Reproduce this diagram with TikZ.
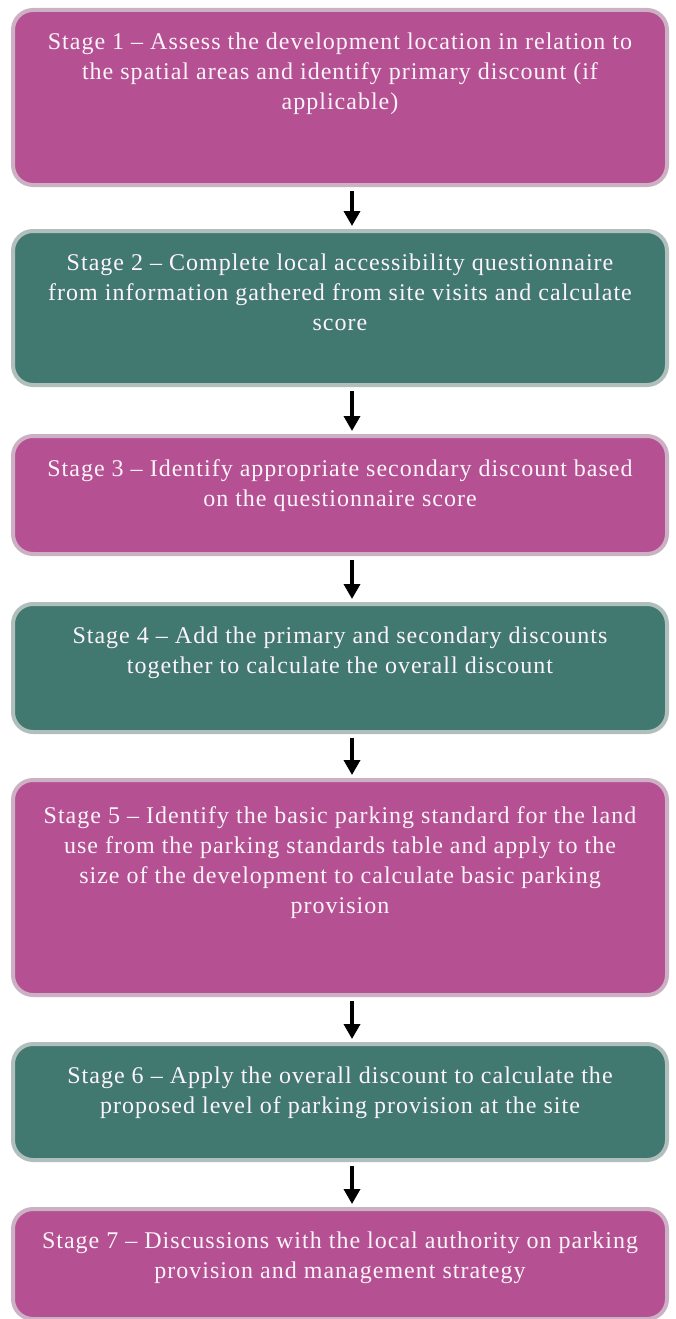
\documentclass[tikz,border=0pt]{standalone}
\usepackage{fontspec}
\setmainfont{Liberation Serif}[LetterSpace=4.2]
\usetikzlibrary{arrows.meta}
\definecolor{magfill}{RGB}{181,81,146}
\definecolor{magedge}{RGB}{204,176,196}
\definecolor{tealfill}{RGB}{65,121,113}
\definecolor{tealedge}{RGB}{176,190,188}
\definecolor{txtcol}{RGB}{252,244,250}
\tikzset{
  stagebox/.style={rounded corners=20pt, line width=4pt, minimum width=654pt, anchor=north, inner sep=0pt},
  magbox/.style={stagebox, fill=magfill, draw=magedge},
  tealbox/.style={stagebox, fill=tealfill, draw=tealedge},
  stagetext/.style={anchor=north, align=center, inner sep=0pt, text=txtcol, font=\fontsize{24}{30}\selectfont},
  flowarrow/.style={line width=3.5pt, -{Triangle[width=16pt,length=15pt]}, shorten <=4pt, shorten >=3pt}
}
\begin{document}
\begin{tikzpicture}[x=1pt,y=-1pt]
\useasboundingbox (0,0) rectangle (675,1319);
\fill[white] (0,0) rectangle (675,1319);
\node[magbox, minimum height=175pt] (b1) at (340,8) {};
\node[tealbox, minimum height=154pt] (b2) at (340,229) {};
\node[magbox, minimum height=118pt] (b3) at (340,434) {};
\node[tealbox, minimum height=128pt] (b4) at (340,602) {};
\node[magbox, minimum height=215pt] (b5) at (340,778) {};
\node[tealbox, minimum height=116pt] (b6) at (340,1042) {};
\node[magbox, minimum height=110pt] (b7) at (340,1207) {};

\node[stagetext] (t1) at ([yshift=-25pt]b1.north) {Stage 1 -- Assess the development location in relation to\\the spatial areas and identify primary discount (if\\applicable)};
\node[stagetext] (t2) at ([yshift=-25pt]b2.north) {Stage 2 -- Complete local accessibility questionnaire\\from information gathered from site visits and calculate\\score};
\node[stagetext] (t3) at ([yshift=-25pt]b3.north) {Stage 3 -- Identify appropriate secondary discount based\\on the questionnaire score};
\node[stagetext] (t4) at ([yshift=-25pt]b4.north) {Stage 4 -- Add the primary and secondary discounts\\together to calculate the overall discount};
\node[stagetext] (t5) at ([yshift=-28pt]b5.north) {Stage 5 -- Identify the basic parking standard for the land\\use from the parking standards table and apply to the\\size of the development to calculate basic parking\\provision};
\node[stagetext] (t6) at ([yshift=-25pt]b6.north) {Stage 6 -- Apply the overall discount to calculate the\\proposed level of parking provision at the site};
\node[stagetext] (t7) at ([yshift=-25pt]b7.north) {Stage 7 -- Discussions with the local authority on parking\\provision and management strategy};

\draw[flowarrow] ([xshift=12pt]b1.south) -- ([xshift=12pt]b2.north);
\draw[flowarrow] ([xshift=12pt]b2.south) -- ([xshift=12pt]b3.north);
\draw[flowarrow] ([xshift=12pt]b3.south) -- ([xshift=12pt]b4.north);
\draw[flowarrow] ([xshift=12pt]b4.south) -- ([xshift=12pt]b5.north);
\draw[flowarrow] ([xshift=12pt]b5.south) -- ([xshift=12pt]b6.north);
\draw[flowarrow] ([xshift=12pt]b6.south) -- ([xshift=12pt]b7.north);
\end{tikzpicture}
\end{document}
